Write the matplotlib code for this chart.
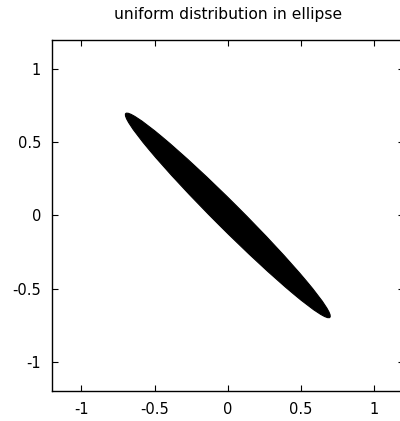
import matplotlib
matplotlib.use('Agg')
import matplotlib.pyplot as plt
from matplotlib.patches import Ellipse

plt.rcParams['font.family'] = ['DejaVu Sans']
plt.rcParams['axes.unicode_minus'] = False

# ellipse region (filled with uniformly distributed points in the original)
center = (0.0, 0.0)
semi_major = 0.985
semi_minor = 0.088
angle_deg = -45

tick_vals = [-1, -0.5, 0, 0.5, 1]
tick_labels = ['-1', '-0.5', '0', '0.5', '1']

fig = plt.figure(figsize=(4, 4.21), dpi=100)
ax = fig.add_axes([0.13, 0.0713, 0.879, 0.834])

ax.add_patch(Ellipse(center, 2 * semi_major, 2 * semi_minor, angle=angle_deg,
                     facecolor='black', edgecolor='black', lw=0.8))

ax.set_xlim(-1.2, 1.2)
ax.set_ylim(-1.2, 1.2)
ax.set_xticks(tick_vals)
ax.set_xticklabels(tick_labels)
ax.set_yticks(tick_vals)
ax.set_yticklabels(tick_labels)
ax.tick_params(direction='in', length=4, width=0.8, top=True, right=True,
               labelsize=10.5, pad=8, colors='black')
for s in ax.spines.values():
    s.set_linewidth(1.0)

ax.set_title('uniform distribution in ellipse', fontsize=11.2, pad=15)

fig.savefig('out.png', dpi=100)
